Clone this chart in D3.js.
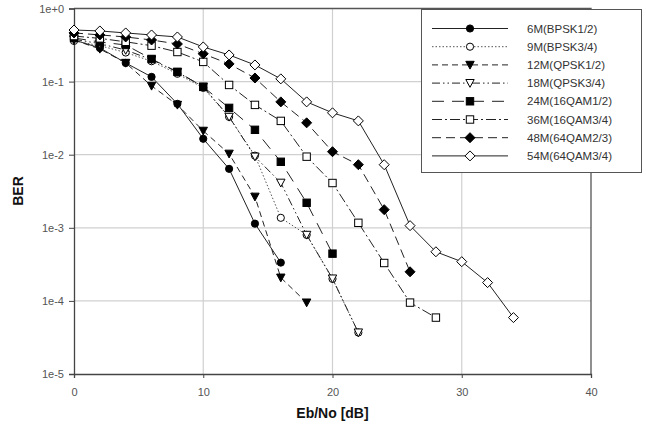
<!DOCTYPE html>
<html><head><meta charset="utf-8">
<script src="https://cdn.jsdelivr.net/npm/d3@7"></script>
<style>body{margin:0;background:#fff}svg{display:block}</style>
</head><body>
<svg id="c" width="646" height="438"></svg>
<script>
const ebno = [0,2,4,6,8,10,12,14,16,18,20,22,24,26,28,30,32,34];
const seriesNames = ["6M(BPSK1/2)","9M(BPSK3/4)","12M(QPSK1/2)","18M(QPSK3/4)","24M(16QAM1/2)","36M(16QAM3/4)","48M(64QAM2/3)","54M(64QAM3/4)"];
const ber6M  = [0.371,0.289,0.180,0.116,0.0496,0.0165,0.0064,0.00114,0.000334];
const ber9M  = [0.36,0.31,0.25,0.19,0.128,0.082,0.0329,0.0097,0.00137,0.00080,0.00020,0.0000369];
const ber12M = [0.371,0.280,0.180,0.0873,0.048,0.0212,0.0103,0.00266,0.000208,0.0000948];
const ber18M = [0.38,0.33,0.27,0.20,0.135,0.085,0.0329,0.0094,0.00413,0.00080,0.000202,0.0000369];
const ber24M = [0.395,0.348,0.317,0.204,0.136,0.0847,0.0437,0.0219,0.0080,0.0022,0.000443];
const ber36M = [0.42,0.39,0.35,0.31,0.254,0.186,0.090,0.048,0.029,0.0094,0.0041,0.00117,0.00033,0.0000948,0.0000591];
const ber48M = [0.463,0.435,0.408,0.371,0.327,0.24,0.1745,0.112,0.0528,0.0273,0.011,0.0073,0.00177,0.00025];
const ber54M = [0.508,0.493,0.463,0.4345,0.408,0.298,0.2316,0.169,0.109,0.0528,0.0374,0.029,0.0073,0.00107,0.00047,0.000344,0.000178,0.0000591];
const xTicks = [0,10,20,30,40];
const yTicks = [1,1e-1,1e-2,1e-3,1e-4,1e-5];
const yTickLabels = ["1e+0","1e-1","1e-2","1e-3","1e-4","1e-5"];

const allBer = [ber6M,ber9M,ber12M,ber18M,ber24M,ber36M,ber48M,ber54M];
const styles = [
  {dash:null, marker:"circle", fill:"#000", color:"#222"},
  {dash:"1.5,2", marker:"circle", fill:"#fff", color:"#555"},
  {dash:"6,4", marker:"tri", fill:"#000", color:"#222"},
  {dash:"8,3,1.5,3,1.5,3", marker:"tri", fill:"#fff", color:"#222"},
  {dash:"12,8", marker:"square", fill:"#000", color:"#222"},
  {dash:"10,3,2,3", marker:"square", fill:"#fff", color:"#222"},
  {dash:"9,5", marker:"diamond", fill:"#000", color:"#222"},
  {dash:null, marker:"diamond", fill:"#fff", color:"#222"}
];

const svg = d3.select("#c");
const x = d3.scaleLinear().domain([0,40]).range([74,591]);
const y = d3.scaleLog().domain([1e-5,1]).range([374,8.5]);

// grid
svg.append("g").selectAll("line").data(xTicks.slice(1,-1)).join("line")
  .attr("x1",d=>x(d)).attr("x2",d=>x(d)).attr("y1",y(1)).attr("y2",y(1e-5))
  .attr("stroke","#d0d0d0").attr("stroke-width",1.2);
svg.append("g").selectAll("line").data(yTicks.slice(1,-1)).join("line")
  .attr("x1",x(0)).attr("x2",x(40)).attr("y1",d=>y(d)).attr("y2",d=>y(d))
  .attr("stroke","#d0d0d0").attr("stroke-width",1.2);
// frame top/right
svg.append("path").attr("d",`M${x(0)},${y(1)}H${x(40)}V${y(1e-5)}`)
  .attr("fill","none").attr("stroke","#555").attr("stroke-width",1.3);

// axes
const xAxis = d3.axisBottom(x).tickValues(xTicks).tickSize(4).tickPadding(10).tickFormat(d3.format("d"));
const yAxis = d3.axisLeft(y).tickValues(yTicks).tickSize(5).tickPadding(5).tickFormat((d,i)=>yTickLabels[i]);
const gx = svg.append("g").attr("transform",`translate(0,${y(1e-5)})`).call(xAxis);
const gy = svg.append("g").attr("transform",`translate(${x(0)},0)`).call(yAxis);
[gx,gy].forEach(g=>{
  g.select(".domain").attr("stroke","#444").attr("stroke-width",1.3);
  g.selectAll(".tick line").attr("stroke","#444");
  g.selectAll("text").attr("font-family","Liberation Sans, Arial, sans-serif").attr("font-size",11).attr("fill","#555");
});

// titles
svg.append("text").attr("x",x(20)).attr("y",418).attr("text-anchor","middle")
  .attr("font-family","Liberation Sans, Arial, sans-serif").attr("font-weight","bold").attr("font-size",14).attr("fill","#111")
  .text("Eb/No [dB]");
svg.append("text").attr("transform","translate(23,191) rotate(-90)").attr("text-anchor","middle")
  .attr("font-family","Liberation Sans, Arial, sans-serif").attr("font-weight","bold").attr("font-size",14).attr("fill","#111")
  .text("BER");

function marker(g, type, fill, cx, cy){
  let el;
  if(type==="circle") el = g.append("circle").attr("cx",cx).attr("cy",cy).attr("r",3.6);
  else if(type==="square") el = g.append("rect").attr("x",cx-3.7).attr("y",cy-3.7).attr("width",7.4).attr("height",7.4);
  else if(type==="tri") el = g.append("path").attr("d",`M${cx-4.2},${cy-3.6}L${cx+4.2},${cy-3.6}L${cx},${cy+4.2}Z`);
  else el = g.append("path").attr("d",`M${cx},${cy-5}L${cx+5},${cy}L${cx},${cy+5}L${cx-5},${cy}Z`);
  el.attr("fill",fill).attr("stroke","#000").attr("stroke-width",1);
}

const line = d3.line().x(d=>x(d[0])).y(d=>y(d[1]));
allBer.forEach((vals,i)=>{
  const st = styles[i];
  const pts = vals.map((v,j)=>[ebno[j],v]);
  const g = svg.append("g");
  g.append("path").attr("d",line(pts)).attr("fill","none").attr("stroke",st.color).attr("stroke-width",1)
    .attr("stroke-dasharray",st.dash);
  pts.forEach(p=>marker(g, st.marker, st.fill, x(p[0]), y(p[1])));
});

// legend
const lg = svg.append("g");
lg.append("rect").attr("x",421.5).attr("y",9.5).attr("width",220).attr("height",163)
  .attr("fill","#fff").attr("stroke","#555").attr("stroke-width",1);
seriesNames.forEach((name,i)=>{
  const st = styles[i];
  const ly = 28.5 + i*18.2;
  lg.append("line").attr("x1",432).attr("x2",508).attr("y1",ly).attr("y2",ly)
    .attr("stroke",st.color).attr("stroke-width",1).attr("stroke-dasharray",st.dash);
  marker(lg, st.marker, st.fill, 470, ly);
  lg.append("text").attr("x",527).attr("y",ly+4).attr("font-family","Liberation Sans, Arial, sans-serif")
    .attr("font-size",11.5).attr("fill","#333").text(name);
});
</script>
</body></html>
